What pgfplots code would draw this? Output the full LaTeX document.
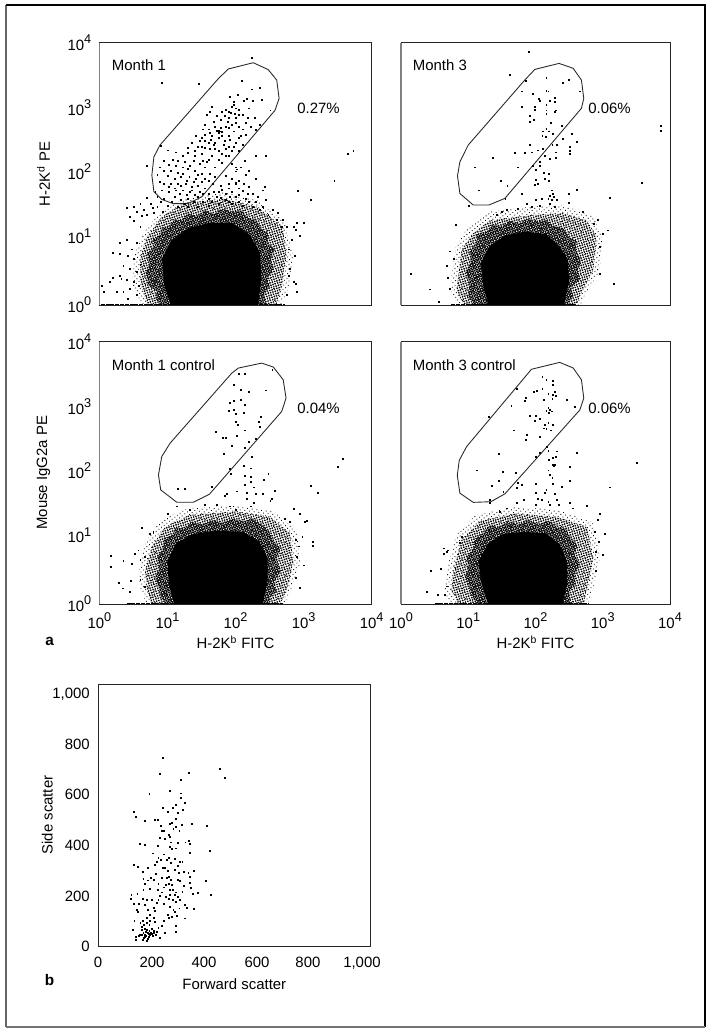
\documentclass[border=0pt]{standalone}
\usepackage{fontspec}
\setmainfont{Liberation Sans}
\usepackage{pgfplots}
\pgfplotsset{compat=1.18}
\usetikzlibrary{patterns.meta}

\newcommand{\dec}[1]{10\raisebox{.45em}{\fontsize{9.5}{10}\selectfont #1}}
\tikzset{lab/.style={anchor=west,inner sep=0pt}}

% fluorescence axes hold log10 values, 0..4 decades
\pgfplotsset{
  base/.style={scale only axis,anchor=south west,axis line style={line width=.7pt,black!85},
    major tick length=0pt,tick style={draw=none},font=\fontsize{11.2}{13}\selectfont,
    xticklabel style={inner sep=0pt,yshift=-6.5pt},yticklabel style={inner sep=0pt,xshift=-6pt},
    every axis x label/.style={at={(axis description cs:0.5,0)},anchor=center,yshift=-28.5pt},
    every axis y label/.style={at={(axis description cs:0,0.5)},anchor=center,rotate=90,yshift=42pt}},
  flow/.style={base,width=204.15pt,height=196.7pt,xmin=0,xmax=4,ymin=0,ymax=4,xtick=\empty,ytick=\empty,
    after end axis/.code={\draw[black!50,line width=.9pt] (rel axis cs:0,0) -- (rel axis cs:0,1);}},
  xdec/.style={xtick={0,1,2,3,4},xticklabels={\dec{0},\dec{1},\dec{2},\dec{3},\dec{4}}},
  ydec/.style={ytick={0,1.05,2.03,3.01,4},yticklabels={\dec{0},\dec{1},\dec{2},\dec{3},\dec{4}}},
  dots/.style={only marks,mark=square*,mark size=.34pt,mark options={draw=none,fill=black},black},
  gate/.style={black!85,line width=.65pt,no marks},
  core/.style={fill=black,draw=none,no marks},
  rimO/.style={draw=none,no marks,pattern={Dots[radius=.45pt,distance=2.5pt,angle=37]},pattern color=black},
  rimM/.style={draw=none,no marks,pattern={Dots[radius=.7pt,distance=1.8pt,angle=17]},pattern color=black},
  rimI/.style={draw=none,no marks,pattern={Dots[radius=.78pt,distance=1.55pt,angle=61]},pattern color=black},
  pile/.style={black,line width=1.6pt,no marks,dash pattern=on 3pt off .6pt}
}

\begin{document}
\begin{tikzpicture}
\useasboundingbox (0pt,0pt) rectangle (532.5pt,774.75pt);
\draw[black!60,line width=.9pt] (4.5pt,4.5pt) -- (4.5pt,771pt);
\draw[black,line width=.9pt] (4.5pt,771pt) -- (528.7pt,771pt) -- (528.7pt,4.5pt);
\draw[black!55,line width=1.3pt] (4.5pt,4.6pt) -- (528.7pt,4.6pt);

% Month 1
\begin{axis}[flow,ydec,at={(74.6pt,546pt)},ylabel={H-2K\textsuperscript{d} PE}]
\addplot[rimO] coordinates {(0.48,0.3)(0.52,0.8)(0.68,1.15)(0.92,1.45)(1.24,1.62)(1.82,1.72)(2.31,1.6)(2.72,1.28)(2.85,0.74)(2.78,0.28)(2.68,0)(0.62,0)} -- cycle;
\addplot[rimM] coordinates {(0.6,0.33)(0.6,0.74)(0.7,1.04)(0.92,1.35)(1.24,1.55)(1.82,1.62)(2.31,1.5)(2.7,1.19)(2.75,0.74)(2.68,0.28)(2.6,0)(0.7,0)} -- cycle;
\addplot[rimI] coordinates {(0.72,0.3)(0.68,0.5)(0.74,0.62)(0.7,0.78)(0.8,0.9)(0.78,1.0)(0.9,1.08)(0.92,1.18)(1.03,1.2)(1.1,1.3)(1.22,1.3)(1.3,1.4)(1.42,1.35)(1.55,1.44)(1.68,1.38)(1.8,1.47)(1.95,1.42)(2.08,1.45)(2.18,1.33)(2.3,1.3)(2.38,1.15)(2.48,1.1)(2.47,0.95)(2.57,0.85)(2.52,0.7)(2.56,0.55)(2.47,0.42)(2.5,0.28)(2.42,0.15)(2.45,0)(0.92,0)(0.82,0.1)(0.85,0.2)} -- cycle;
\addplot[core] coordinates {(0.95,0.3)(0.92,0.7)(1.05,0.98)(1.3,1.17)(1.6,1.25)(1.95,1.25)(2.2,1.08)(2.36,0.8)(2.38,0.4)(2.33,0)(1.05,0)} -- cycle;
\addplot[pile] coordinates {(0.02,0)(2.72,0)};
\addplot[dots] coordinates {(2.24,3.77)(0.92,3.39)(1.46,3.38)(2.09,3.42)(2.36,3.31)(2.24,3.29)(1.92,3.18)(2.39,3.13)(2.17,3.15)(2.12,3.12)(1.97,3.10)(2.51,2.97)(1.65,3.03)(2.2,3.0)(2.0,3.0)(1.95,3.03)(1.85,2.98)(1.9,2.95)(1.93,2.93)(2.05,2.98)(1.99,2.92)(1.8,2.95)(1.72,2.88)(1.84,2.88)(1.9,2.85)(2.0,2.85)(2.1,2.9)(2.18,2.85)(1.68,2.8)(1.78,2.82)(1.88,2.8)(2.0,2.78)(2.05,2.72)(1.55,2.75)(1.6,2.68)(1.7,2.72)(1.78,2.7)(1.72,2.66)(1.74,2.66)(1.76,2.66)(1.78,2.65)(1.8,2.64)(1.75,2.62)(1.9,2.7)(2.1,2.68)(2.22,2.72)(2.3,2.67)(1.55,2.6)(1.65,2.58)(1.75,2.55)(1.9,2.58)(2.05,2.55)(2.15,2.6)(1.55,2.5)(1.6,2.48)(1.63,2.52)(1.7,2.47)(1.82,2.45)(1.9,2.42)(2.0,2.48)(2.1,2.45)(1.45,2.42)(1.55,2.4)(1.62,2.38)(1.75,2.35)(1.85,2.38)(1.95,2.35)(2.05,2.35)(0.9,2.43)(1.0,2.36)(1.12,2.33)(1.3,2.32)(1.4,2.27)(1.5,2.3)(1.65,2.28)(1.75,2.22)(1.85,2.27)(2.3,2.28)(2.45,2.27)(1.15,2.2)(1.25,2.18)(1.38,2.2)(1.48,2.15)(1.58,2.18)(1.7,2.1)(1.8,2.17)(1.95,2.15)(2.07,2.1)(2.13,2.2)(2.2,2.05)(0.7,2.13)(0.95,2.05)(1.05,2.05)(1.15,2.02)(1.22,2.0)(1.3,2.08)(1.4,2.05)(1.5,2.0)(1.55,2.1)(1.62,2.0)(2.0,2.1)(2.02,2.07)(2.0,2.04)(0.85,1.98)(1.0,1.97)(1.1,1.92)(1.2,1.95)(1.32,1.95)(1.42,1.92)(1.6,1.9)(1.7,1.95)(1.85,1.97)(1.95,1.93)(2.05,1.9)(2.15,1.98)(2.3,1.93)(0.95,1.85)(1.05,1.85)(1.15,1.85)(1.27,1.85)(1.35,1.8)(1.45,1.82)(1.55,1.78)(1.67,1.85)(1.78,1.82)(1.9,1.85)(2.0,1.87)(2.0,1.85)(2.2,1.8)(2.43,1.8)(2.4,1.75)(0.82,1.72)(0.92,1.75)(1.02,1.73)(1.12,1.75)(1.22,1.75)(1.33,1.72)(1.47,1.72)(1.6,1.7)(1.75,1.72)(1.85,1.7)(1.95,1.72)(2.1,1.74)(2.25,1.7)(2.33,1.65)(0.85,1.65)(0.95,1.62)(1.1,1.65)(1.2,1.6)(1.3,1.62)(1.45,1.65)(1.6,1.62)(1.72,1.65)(1.85,1.6)(2.0,1.65)(2.15,1.62)(2.3,1.58)(2.45,1.6)(0.7,1.63)(0.6,1.55)(0.75,1.55)(0.5,1.5)(0.4,1.48)(0.65,1.45)(0.85,1.5)(1.0,1.52)(1.15,1.5)(0.55,1.42)(0.45,1.35)(0.7,1.38)(0.8,1.4)(0.93,1.42)(1.3,1.5)(1.45,1.5)(1.6,1.52)(1.75,1.55)(1.95,1.55)(2.1,1.52)(2.25,1.5)(2.4,1.5)(2.55,1.45)(2.62,1.4)(2.7,1.3)(2.75,1.2)(2.85,1.2)(2.88,1.15)(2.9,1.25)(2.95,1.05)(3.0,1.25)(3.65,2.3)(3.73,2.35)(3.45,1.9)(2.91,1.74)(3.1,1.6)(0.3,0.95)(0.4,1.0)(0.48,0.85)(0.55,0.95)(0.2,0.8)(0.3,0.78)(0.42,0.75)(0.5,0.7)(0.35,0.6)(0.45,0.55)(0.55,0.5)(0.3,0.45)(0.2,0.42)(0.32,0.4)(0.4,0.38)(0.5,0.35)(0.15,0.35)(0.03,0.3)(0.06,0.2)(0.25,0.2)(0.35,0.2)(0.45,0.25)(0.55,0.15)(0.42,0.1)(0.6,0.62)(0.58,0.3)(2.8,0.55)(2.78,0.45)(2.85,0.35)(2.88,0.32)(2.9,0.2)(2.75,0.15)(2.78,0.85)(2.83,1.0)(2.87,0.75)(1.58,2.9)(1.62,2.62)(1.68,2.45)(1.8,2.58)(1.84,2.5)(1.92,2.52)(1.97,2.65)(1.98,2.42)(2.08,2.58)(1.5,2.55)(1.42,2.58)(1.4,2.35)(1.5,2.42)(1.7,2.38)(1.8,2.3)(1.9,2.28)(1.6,2.22)(1.52,2.2)(1.33,2.12)(1.22,2.1)(1.12,2.12)(1.02,2.14)(0.88,2.1)(1.45,1.98)(1.55,1.92)(1.28,1.9)(1.38,1.88)(1.02,1.8)(1.1,1.78)(1.18,1.7)(1.28,1.68)(1.4,1.68)(1.52,1.7)(1.68,1.72)(1.8,1.76)(1.9,1.78)(2.05,1.78)(2.12,1.85)(2.18,1.7)(2.05,1.68)(1.92,1.65)(1.78,1.64)(1.65,1.58)(1.52,1.58)(1.38,1.58)(1.25,1.55)(1.06,1.58)(0.9,1.58)(0.78,1.48)(0.62,1.36)(0.5,1.28)(0.6,1.2)(2.35,1.45)(2.48,1.38)(2.6,1.3)(2.68,1.2)(2.2,1.58)(2.05,1.58)(1.9,1.58)(1.98,3.05)(2.05,2.9)(1.95,2.75)(1.85,2.72)(2.03,3.2)(2.25,3.12)(2.28,2.85)(2.35,2.75)(2.15,2.78)(1.62,2.95)(1.52,2.68)(1.47,2.5)(1.35,2.48)(1.3,2.4)(1.22,2.28)(1.08,2.22)(0.95,2.2)(0.88,1.88)(1.2,1.82)(1.36,1.75)(1.5,1.88)};
\addplot[gate] coordinates {(2.26,3.695)(1.895,3.6)(1.75,3.456)(0.89,2.44)(0.8,2.26)(0.77,1.98)(0.8,1.73)(0.915,1.61)(1.087,1.545)(1.307,1.55)(1.503,1.65)(2.58,2.97)(2.64,3.15)(2.605,3.43)(2.48,3.59)(2.26,3.695)};
\node[lab] at (axis cs:0.18,3.655) {Month 1};
\node at (axis cs:3.22,3.0) {0.27\%};
\end{axis}

% Month 3
\begin{axis}[flow,at={(300.75pt,546pt)},width=201.75pt]
\addplot[rimO] coordinates {(0.75,0.43)(0.82,0.9)(1.0,1.2)(1.3,1.42)(1.92,1.5)(2.41,1.52)(2.85,1.36)(3.0,1.04)(2.96,0.53)(2.75,0.18)(2.68,0)(0.85,0)(0.74,0.23)} -- cycle;
\addplot[rimM] coordinates {(0.85,0.43)(0.9,0.84)(1.07,1.09)(1.32,1.29)(1.92,1.37)(2.41,1.4)(2.76,1.29)(2.91,1.04)(2.86,0.53)(2.68,0.18)(2.61,0)(0.93,0)(0.83,0.23)} -- cycle;
\addplot[rimI] coordinates {(1.02,0.3)(0.97,0.5)(1.04,0.65)(1.02,0.82)(1.12,0.95)(1.13,1.08)(1.28,1.12)(1.36,1.22)(1.5,1.2)(1.62,1.29)(1.75,1.24)(1.88,1.31)(2.02,1.27)(2.15,1.3)(2.28,1.2)(2.4,1.18)(2.5,1.04)(2.6,0.98)(2.6,0.82)(2.68,0.68)(2.63,0.52)(2.66,0.38)(2.53,0.28)(2.56,0.12)(2.47,0)(1.1,0)(1.0,0.12)} -- cycle;
\addplot[core] coordinates {(1.22,0.3)(1.19,0.65)(1.32,0.9)(1.55,1.06)(1.85,1.12)(2.15,1.08)(2.35,0.9)(2.48,0.7)(2.5,0.35)(2.42,0)(1.3,0)} -- cycle;
\addplot[pile] coordinates {(0.75,0)(2.6,0)};
\addplot[dots] coordinates {(1.9,3.86)(1.62,3.51)(2.16,3.46)(2.49,3.44)(2.41,3.39)(1.86,3.42)(1.79,3.26)(2.16,3.27)(2.19,3.26)(2.66,3.26)(1.96,3.22)(2.05,3.15)(2.07,3.11)(2.28,3.16)(2.21,3.12)(2.29,3.1)(2.16,3.05)(1.99,3.03)(1.8,3.03)(1.99,2.98)(2.16,2.97)(2.3,2.97)(2.28,2.95)(2.16,2.92)(1.92,2.88)(1.98,2.82)(1.92,2.8)(2.23,2.78)(2.39,2.73)(2.16,2.69)(2.11,2.65)(2.2,2.65)(2.26,2.61)(2.1,2.58)(2.15,2.56)(2.54,2.61)(2.41,2.54)(2.61,2.49)(2.25,2.45)(1.92,2.45)(2.31,2.44)(2.03,2.36)(1.94,2.33)(1.84,2.32)(1.69,2.32)(2.11,2.38)(2.51,2.41)(2.51,2.35)(2.51,2.3)(2.3,2.33)(2.14,2.28)(2.21,2.23)(2.3,2.24)(1.36,2.25)(1.1,2.1)(1.74,2.1)(1.96,2.12)(2.07,2.18)(2.07,2.12)(2,2.06)(2.12,2.02)(2.2,2)(1.48,1.9)(1.58,1.82)(2,1.91)(2.14,1.92)(2.2,1.9)(1.99,1.84)(2.04,1.85)(1.16,1.75)(1.79,1.7)(2.24,1.75)(2.26,1.7)(2.21,1.67)(2.19,1.62)(2.27,1.65)(2.24,1.6)(2.49,1.7)(2.61,1.76)(2.01,1.6)(2.09,1.62)(2.31,1.6)(1.55,1.62)(1.01,1.52)(1.87,1.55)(1.94,1.5)(2.06,1.52)(2.21,1.55)(2.29,1.5)(2.49,1.56)(3.11,1.64)(3.58,1.87)(3.86,2.74)(3.86,2.66)(0.82,1.23)(0.14,0.48)(0.43,0.24)(0.56,0.05)(3.16,0.32)(1.42,1.38)(1.5,1.42)(1.57,1.45)(1.74,1.47)(3.08,1.14)(3,1.09)(2.95,0.89)(2.95,0.48)(2.86,1.24)(2.92,1.3)(2.7,1.42)(0.72,0.82)(0.68,0.6)(0.7,0.42)(0.72,0.25)(0.78,0.7)};
\addplot[gate] coordinates {(2.35,3.685)(1.99,3.593)(1.84,3.43)(1.0,2.44)(0.876,2.185)(0.84,1.97)(0.876,1.7)(1.074,1.525)(1.307,1.525)(1.545,1.626)(2.683,3.0)(2.718,3.15)(2.683,3.43)(2.56,3.61)(2.35,3.685)};
\node[lab] at (axis cs:0.173,3.655) {Month 3};
\node at (axis cs:3.1,3.0) {0.06\%};
\end{axis}

% Month 1 control
\begin{axis}[flow,xdec,ydec,at={(74.6pt,321.75pt)},xlabel={H-2K\textsuperscript{b} FITC},ylabel={Mouse IgG2a PE}]
\addplot[rimO] coordinates {(0.58,0.52)(0.68,0.95)(0.9,1.28)(1.3,1.46)(2.02,1.5)(2.55,1.42)(2.9,1.12)(2.95,0.62)(2.82,0.21)(2.72,0)(0.7,0)(0.6,0.21)} -- cycle;
\addplot[rimM] coordinates {(0.67,0.52)(0.77,0.88)(0.97,1.18)(1.33,1.36)(2.02,1.41)(2.51,1.33)(2.8,1.08)(2.85,0.62)(2.75,0.21)(2.66,0)(0.77,0)(0.7,0.21)} -- cycle;
\addplot[rimI] coordinates {(0.87,0.26)(0.82,0.42)(0.88,0.55)(0.85,0.72)(0.94,0.85)(0.95,1)(1.08,1.06)(1.12,1.16)(1.25,1.15)(1.36,1.25)(1.5,1.21)(1.65,1.28)(1.8,1.24)(1.95,1.3)(2.1,1.26)(2.25,1.3)(2.4,1.2)(2.5,1.1)(2.56,0.96)(2.66,0.85)(2.6,0.68)(2.66,0.5)(2.57,0.35)(2.6,0.18)(2.5,0.1)(2.5,0)(0.97,0)(0.9,0.12)} -- cycle;
\addplot[core] coordinates {(1.02,0.3)(1.0,0.65)(1.12,0.92)(1.35,1.06)(1.7,1.12)(2.1,1.1)(2.35,0.95)(2.47,0.7)(2.47,0.35)(2.4,0)(1.1,0)} -- cycle;
\addplot[pile] coordinates {(0.4,0)(2.7,0)};
\addplot[dots] coordinates {(2.54,3.57)(2.14,3.51)(2.05,3.51)(1.98,3.34)(2.07,3.27)(2.2,3.24)(2.44,3.26)(2.07,3.12)(1.97,3.1)(1.91,3.07)(2.14,3.04)(1.9,2.95)(1.97,2.96)(2,2.9)(2.12,2.91)(2.37,2.86)(2.34,2.78)(2,2.78)(2.03,2.74)(2.36,2.7)(2.14,2.65)(1.71,2.62)(2.02,2.57)(1.81,2.54)(1.86,2.53)(2.3,2.52)(2.19,2.47)(1.94,2.41)(2.13,2.38)(1.83,2.29)(2.24,2.25)(2.12,2.11)(1.91,2.06)(2.22,2.07)(3.5,2.09)(3.58,2.21)(1.93,1.98)(2.48,1.98)(2.13,1.96)(2.23,1.94)(2.41,1.89)(2.22,1.87)(3.1,1.81)(2.13,1.82)(1.65,1.79)(1.15,1.76)(1.26,1.76)(2.27,1.78)(2.02,1.72)(2.58,1.73)(3.21,1.69)(1.84,1.65)(1.87,1.68)(2.17,1.69)(2.3,1.68)(2.4,1.68)(2.53,1.61)(2.17,1.61)(2.51,1.58)(1.14,1.49)(1.33,1.44)(1.55,1.52)(1.72,1.51)(1.92,1.49)(2,1.44)(2.22,1.49)(2.27,1.54)(2.85,1.45)(2.94,1.37)(3.05,1.27)(3.02,1.25)(3.14,0.95)(3.14,0.89)(2.98,1.03)(2.93,0.88)(3,0.59)(2.94,0.25)(0.16,0.74)(0.17,0.57)(0.35,0.66)(0.48,0.61)(0.28,0.33)(0.34,0.24)(0.45,0.19)(0.46,0.35)(0.62,1.16)(1.01,1.38)(0.79,1.1)(0.74,1.07)(0.57,0.82)(0.52,0.77)(0.6,0.67)(0.67,0.72)(0.6,0.37)(0.67,0.26)(2.72,1.3)(2.8,1.25)(2.88,0.98)(2.9,0.72)(2.88,0.4)};
\addplot[gate] coordinates {(2.384,3.674)(2.04,3.598)(1.944,3.52)(1.038,2.453)(0.916,2.25)(0.867,1.97)(0.9,1.74)(1.136,1.552)(1.38,1.552)(1.616,1.674)(2.678,2.936)(2.742,3.14)(2.7,3.42)(2.556,3.613)(2.384,3.674)};
\node[lab] at (axis cs:0.18,3.65) {Month 1 control};
\node at (axis cs:3.22,2.98) {0.04\%};
\end{axis}

% Month 3 control
\begin{axis}[flow,xdec,at={(300.75pt,321.75pt)},width=201.75pt,xlabel={H-2K\textsuperscript{b} FITC}]
\addplot[rimO] coordinates {(0.68,0.52)(0.82,1.05)(1.1,1.35)(1.67,1.48)(2.31,1.44)(2.85,1.25)(2.96,0.72)(2.86,0.26)(2.78,0)(0.72,0)(0.65,0.21)} -- cycle;
\addplot[rimM] coordinates {(0.78,0.52)(0.9,0.98)(1.17,1.26)(1.67,1.38)(2.31,1.33)(2.76,1.18)(2.86,0.72)(2.78,0.26)(2.71,0)(0.85,0)(0.75,0.21)} -- cycle;
\addplot[rimI] coordinates {(1.02,0.26)(0.95,0.42)(1,0.55)(0.98,0.72)(1.08,0.85)(1.1,1)(1.22,1.08)(1.32,1.2)(1.45,1.17)(1.6,1.26)(1.75,1.21)(1.9,1.28)(2.05,1.22)(2.2,1.27)(2.32,1.17)(2.45,1.15)(2.52,1.02)(2.62,0.9)(2.58,0.75)(2.66,0.6)(2.58,0.45)(2.6,0.3)(2.5,0.2)(2.52,0)(1.12,0)(1.05,0.12)} -- cycle;
\addplot[core] coordinates {(1.2,0.3)(1.15,0.65)(1.3,0.92)(1.5,1.06)(1.8,1.1)(2.15,1.08)(2.35,0.92)(2.47,0.65)(2.47,0.3)(2.4,0)(1.3,0)} -- cycle;
\addplot[pile] coordinates {(0.5,0)(2.8,0)};
\addplot[dots] coordinates {(2.1,3.46)(2.16,3.42)(2.26,3.41)(2.26,3.35)(1.72,3.28)(1.98,3.24)(2.02,3.25)(2.1,3.28)(2.29,3.24)(2.26,3.19)(2.19,3.21)(2.3,3.18)(2.25,3.13)(2.12,3.12)(1.86,3.15)(1.84,3.1)(2.46,3.11)(2.58,3.01)(1.64,3.03)(2.19,2.99)(2.21,2.96)(2.16,2.95)(2.24,2.94)(2.2,2.91)(1.3,2.86)(1.92,2.87)(2,2.87)(2.07,2.82)(1.99,2.8)(2.19,2.76)(2.14,2.73)(2.26,2.73)(2.12,2.68)(2.16,2.67)(2.23,2.65)(1.68,2.65)(1.87,2.58)(1.86,2.51)(2.07,2.55)(2.17,2.4)(2.19,2.34)(2.31,2.33)(2.61,2.31)(1.45,2.29)(2,2.25)(2.07,2.3)(2.2,2.2)(2.26,2.23)(2.3,2.24)(2.26,2.12)(2.27,2.11)(2.29,2.12)(2.51,2.09)(3.51,2.15)(1.13,2.04)(1.51,2.02)(1.71,2)(2.19,2.04)(2.21,1.97)(2.25,1.92)(2.51,1.88)(1.46,1.88)(1.35,1.81)(1.74,1.85)(1.79,1.82)(1.72,1.77)(2,1.83)(3.1,1.78)(1.52,1.71)(2.39,1.79)(2.26,1.84)(2.16,1.74)(2.01,1.69)(2.14,1.69)(2.29,1.68)(2.04,1.61)(2.09,1.59)(2.19,1.56)(2.31,1.59)(1.32,1.59)(1.32,1.55)(2.34,1.51)(2.51,1.54)(2.56,1.46)(2.76,1.5)(1.82,1.59)(1.72,1.54)(1.57,1.46)(1.47,1.41)(2.01,1.51)(2.21,1.51)(2.96,1.37)(2.93,1.28)(3.03,1.07)(2.9,0.8)(3,0.75)(0.63,0.85)(0.7,0.82)(0.64,0.77)(0.68,0.8)(0.44,0.51)(0.59,0.54)(0.68,0.27)(0.54,0.14)(0.38,0.18)(0.65,0.14)(0.9,1.03)(0.88,0.93)(2.88,1.1)(2.94,0.95)(2.9,0.5)};
\addplot[gate] coordinates {(2.36,3.685)(1.94,3.58)(0.975,2.4)(0.866,2.19)(0.837,1.96)(0.876,1.69)(1.074,1.55)(1.337,1.56)(1.545,1.68)(2.66,2.96)(2.718,3.14)(2.683,3.42)(2.56,3.6)(2.36,3.685)};
\node[lab] at (axis cs:0.173,3.65) {Month 3 control};
\node at (axis cs:3.1,2.98) {0.06\%};
\end{axis}

% forward and side scatter, panel b
\begin{axis}[base,at={(73.5pt,65.25pt)},width=204.5pt,height=196.5pt,xmin=0,xmax=1000,ymin=0,ymax=1000,
  xtick={0,198,389,583,770,968},xticklabels={0,200,400,600,800,{1,000}},
  ytick={0,191,385,580,771,962},yticklabels={0,200,400,600,800,{1,000}},
  xticklabel style={yshift=-1.5pt},xlabel={Forward scatter},ylabel={Side scatter},
  every axis y label/.append style={yshift=-4pt}]
\addplot[dots] coordinates {(238,720)(227,659)(332,660)(447,678)(466,641)(303,635)(262,594)(188,580)(302,583)(305,567)(318,547)(286,539)(237,529)(274,527)(256,513)(292,509)(132,513)(138,494)(171,477)(208,481)(219,481)(286,484)(269,471)(262,467)(343,467)(399,459)(307,464)(230,458)(286,456)(276,447)(235,439)(298,439)(258,424)(225,412)(245,410)(264,417)(152,390)(170,387)(320,396)(334,401)(337,389)(291,394)(268,396)(285,373)(219,382)(264,379)(411,362)(200,354)(242,350)(335,356)(221,337)(260,338)(282,334)(309,323)(215,322)(268,318)(291,306)(130,310)(147,303)(164,284)(181,299)(208,309)(237,299)(255,287)(351,287)(313,282)(331,281)(295,281)(211,277)(194,262)(166,258)(181,251)(233,262)(253,262)(268,252)(291,254)(301,248)(337,265)(396,248)(203,252)(221,238)(172,238)(258,238)(313,230)(337,243)(270,233)(240,224)(166,216)(191,218)(341,223)(220,214)(264,216)(122,195)(144,201)(309,207)(367,204)(347,198)(412,196)(282,197)(291,188)(249,188)(258,182)(120,179)(164,179)(178,178)(197,176)(221,176)(274,176)(301,176)(148,160)(132,160)(170,159)(215,165)(240,160)(319,156)(325,146)(264,150)(352,141)(142,137)(145,131)(181,137)(209,135)(276,137)(282,131)(298,144)(289,117)(318,106)(191,118)(178,109)(203,109)(260,109)(242,97)(133,97)(164,97)(209,93)(233,76)(285,76)(126,61)(160,74)(172,67)(188,80)(197,67)(221,71)(245,52)(285,55)(148,38)(138,36)(138,23)(160,61)(166,51)(185,48)(197,48)(211,42)(227,32)(172,36)(164,23)(178,19)(154,42)(178,61)(191,42)(203,59)(169,33)(181,29)(175,55)(182,52)(188,58)(193,50)(170,44)(176,38)(186,35)(200,38)(205,50)(162,44)(168,80)(180,90)(155,88)(190,95)(215,55)(252,330)(258,265)(248,235)(275,215)(285,205)(225,190)(235,205)(262,195)(205,145)(255,120)(285,170)(270,110)(245,300)(230,330)(280,290)(300,320)(270,370)(240,440)(310,520)};
\end{axis}

\node[font=\fontsize{11.5}{13}\selectfont\bfseries] at (37.2pt,293.5pt) {a};
\node[font=\fontsize{11.5}{13}\selectfont\bfseries] at (37.2pt,40pt) {b};
\end{tikzpicture}
\end{document}
